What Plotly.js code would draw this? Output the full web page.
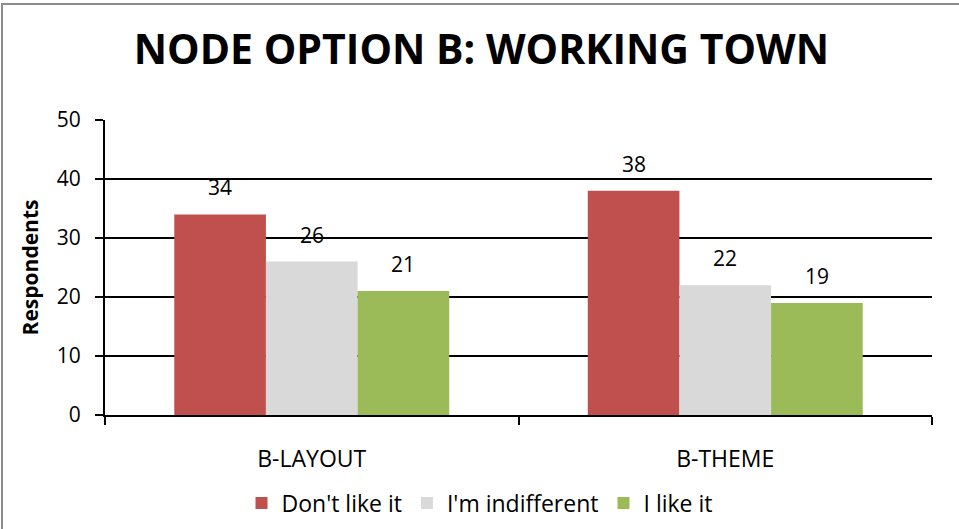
<!DOCTYPE html>
<html>
<head>
<meta charset="utf-8">
<script src="https://cdn.plot.ly/plotly-3.0.1.min.js"></script>
<style>
html,body{margin:0;padding:0;background:#fff;}
#wrap{position:relative;width:959px;height:529px;overflow:hidden;}
#frame{position:absolute;left:1px;top:3px;width:1000px;height:600px;border-left:2px solid #8c8c8c;border-top:2px solid #8c8c8c;pointer-events:none;}
#chart{width:959px;height:529px;}
</style>
</head>
<body>
<div id="wrap">
<div id="chart"></div>
<div id="frame"></div>
</div>
<script>
const categories = ["B-LAYOUT", "B-THEME"];
const seriesNames = ["Don't like it", "I'm indifferent", "I like it"];
const dontLike = [34, 38];
const indifferent = [26, 22];
const likeIt = [21, 19];
const colors = ["#C0504D", "#D9D9D9", "#9BBB59"];
const yTicks = [0, 10, 20, 30, 40, 50];

const FONT = "Open Sans, Liberation Sans, sans-serif";
const BARGAP = 0.335;
const vals = [dontLike, indifferent, likeIt];
const traces = vals.map((v, i) => ({
  type: "bar",
  name: seriesNames[i],
  x: categories,
  y: v,
  marker: {color: colors[i], line: {width: 0}},
  hoverinfo: "skip"
}));

// data labels placed through the category axis (index + offset within the group)
const nS = vals.length;
const slot = (1 - BARGAP) / nS;
const annotations = [];
vals.forEach((v, i) => {
  v.forEach((val, c) => {
    annotations.push({
      xref: "x", yref: "y",
      x: c + (i - (nS - 1) / 2) * slot,
      y: val,
      text: String(val),
      showarrow: false,
      xanchor: "center", yanchor: "middle",
      yshift: 27,
      font: {family: FONT, size: 21, color: "#000"}
    });
  });
});

const layout = {
  width: 959, height: 529,
  margin: {l: 105, r: 27, t: 120, b: 114},
  paper_bgcolor: "#fff", plot_bgcolor: "#fff",
  font: {family: FONT, color: "#000", size: 20},
  title: {
    text: "<b>NODE OPTION B: WORKING TOWN</b>",
    font: {family: FONT, size: 41, color: "#000"},
    x: 0.502, xref: "container", xanchor: "center",
    y: 1 - 50/529, yref: "container", yanchor: "middle"
  },
  barmode: "group",
  bargap: BARGAP,
  bargroupgap: 0,
  annotations: annotations,
  xaxis: {
    type: "category",
    showline: true, linecolor: "#000", linewidth: 2,
    ticks: "outside", tickson: "boundaries", ticklen: 8, tickcolor: "#000", tickwidth: 2,
    ticklabelstandoff: 22,
    tickfont: {family: FONT, size: 23, color: "#000"},
    showgrid: false, zeroline: false, fixedrange: true
  },
  yaxis: {
    range: [0, 50], tickvals: yTicks, ticktext: yTicks.map(String),
    showline: true, linecolor: "#000", linewidth: 2,
    ticks: "outside", ticklen: 8, tickcolor: "#000", tickwidth: 2,
    ticklabelstandoff: 10,
    showgrid: true, gridcolor: "#000", gridwidth: 1.5,
    zeroline: false,
    tickfont: {family: FONT, size: 21, color: "#000"},
    title: {text: "<b>Respondents</b>", font: {family: FONT, size: 21, color: "#000"}, standoff: 12},
    fixedrange: true
  },
  showlegend: true,
  legend: {
    orientation: "h", xref: "container", x: 0.5, xanchor: "center",
    yref: "container", y: 1 - 503/529, yanchor: "middle",
    font: {family: FONT, size: 23, color: "#000"},
    traceorder: "normal", bgcolor: "rgba(0,0,0,0)"
  }
};

Plotly.newPlot("chart", traces, layout, {displayModeBar: false, staticPlot: true});
</script>
</body>
</html>
